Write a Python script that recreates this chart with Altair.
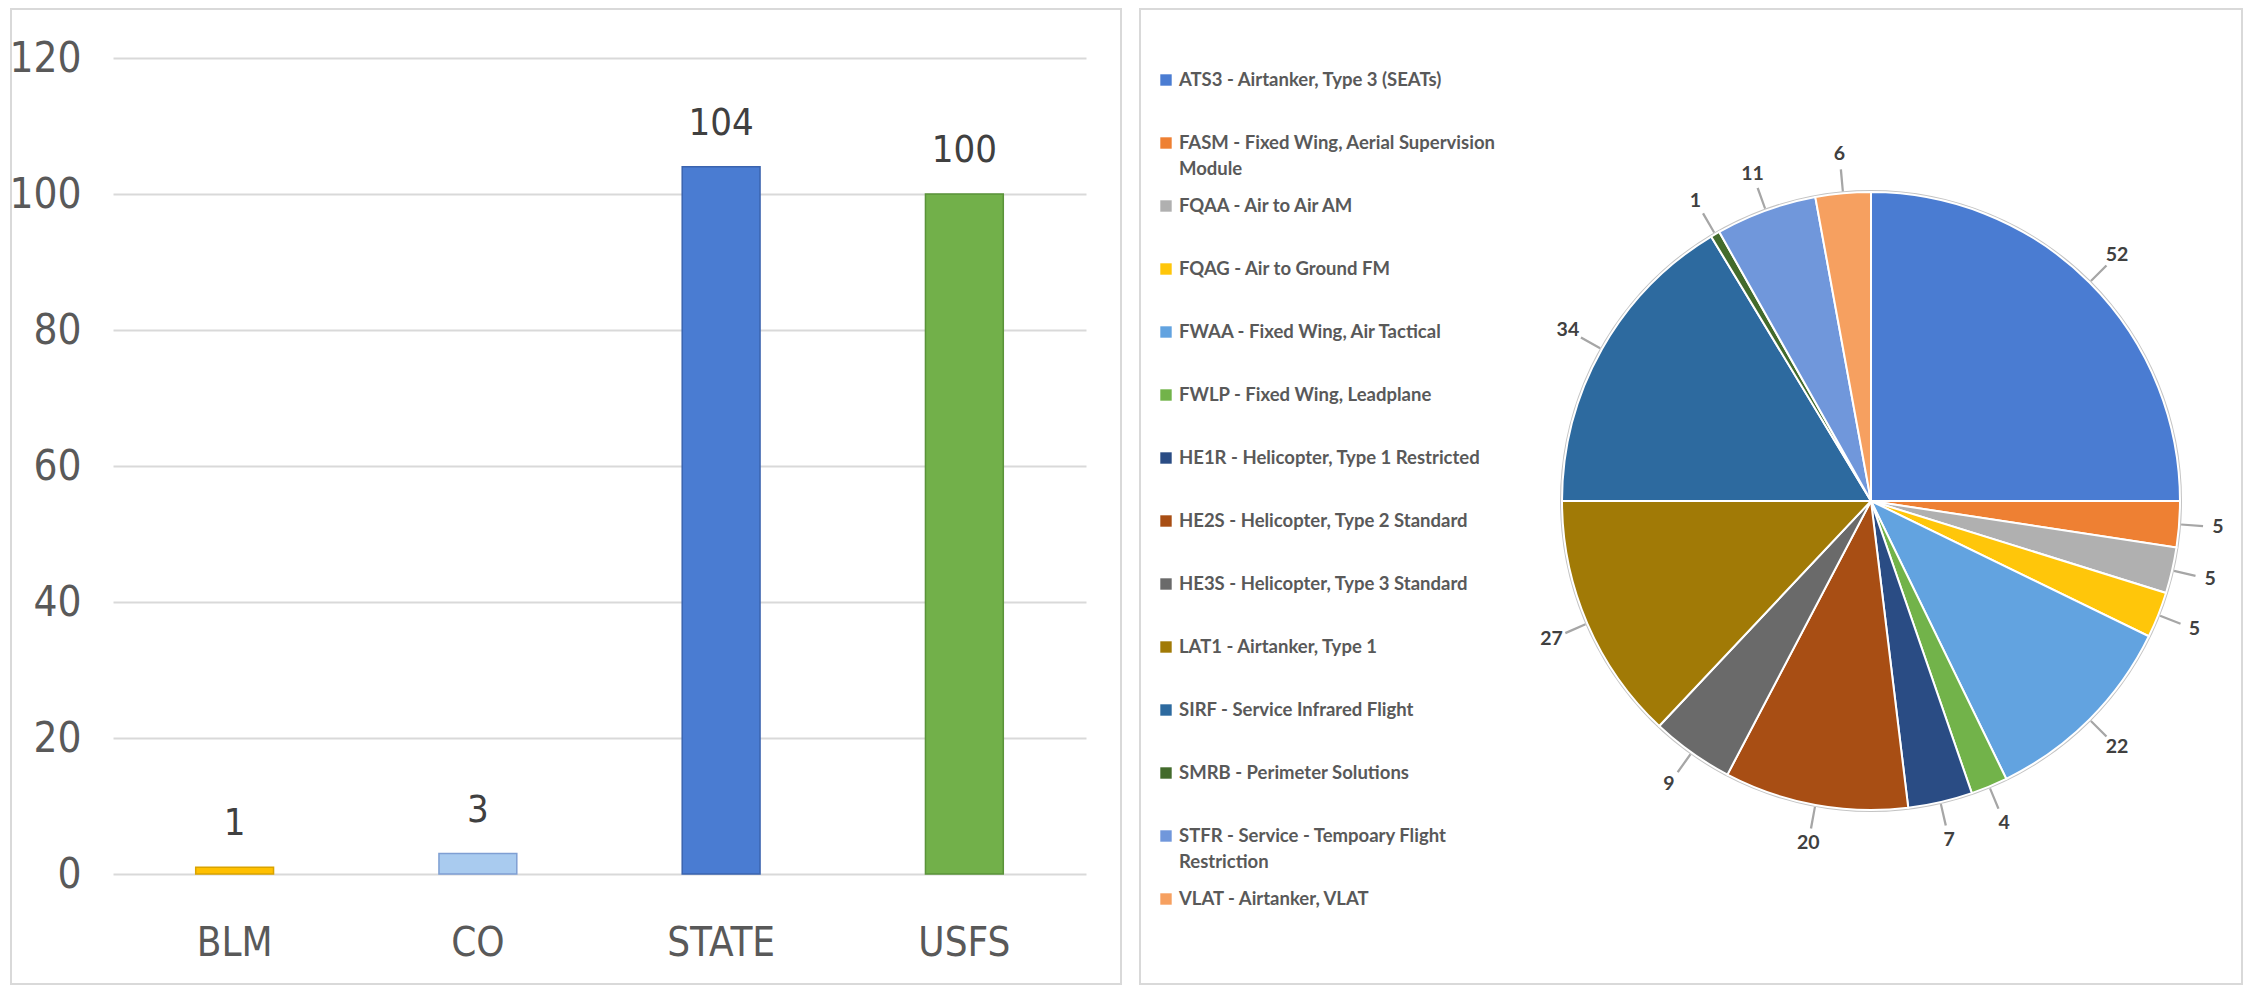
import altair as alt
import pandas as pd

# ---------------- data ----------------
agencies = ["BLM", "CO", "STATE", "USFS"]
agency_counts = [1, 3, 104, 100]
bar_fill = ["#FFC000", "#A9CBEF", "#4A7CD2", "#72B04A"]
bar_edge = ["#D9A300", "#7F9FD3", "#3A63AE", "#5A9339"]
y_ticks = [0, 20, 40, 60, 80, 100, 120]

codes = ["ATS3", "FASM", "FQAA", "FQAG", "FWAA", "FWLP", "HE1R",
         "HE2S", "HE3S", "LAT1", "SIRF", "SMRB", "STFR", "VLAT"]
descriptions = [
    "ATS3 - Airtanker, Type 3 (SEATs)",
    "FASM - Fixed Wing, Aerial Supervision\nModule",
    "FQAA - Air to Air AM",
    "FQAG - Air to Ground FM",
    "FWAA - Fixed Wing, Air Tactical",
    "FWLP - Fixed Wing, Leadplane",
    "HE1R - Helicopter, Type 1 Restricted",
    "HE2S - Helicopter, Type 2 Standard",
    "HE3S - Helicopter, Type 3 Standard",
    "LAT1 - Airtanker, Type 1",
    "SIRF - Service Infrared Flight",
    "SMRB - Perimeter Solutions",
    "STFR - Service - Tempoary Flight\nRestriction",
    "VLAT - Airtanker, VLAT",
]
code_counts = [52, 5, 5, 5, 22, 4, 7, 20, 9, 27, 34, 1, 11, 6]
code_colors = ["#4A7CD2", "#EE8033", "#B0B0B0", "#FFC60A", "#62A3E0", "#72B34A",
               "#2A4C84", "#A84E14", "#6A6A6A", "#A17A06", "#2D6A9F", "#436B2C",
               "#7097DB", "#F6A060"]

AX_FONT = "Liberation Sans Narrow, DejaVu Sans Condensed, Arial Narrow, sans-serif"
LEG_FONT = "Lato, Open Sans, sans-serif"
FRAME = "#d9d9d9"

# ---------------- left: bar chart ----------------
bar_df = pd.DataFrame({"agency": agencies, "count": agency_counts})

x_enc = alt.X(
    "agency:N", sort=agencies,
    scale=alt.Scale(paddingInner=0.68, paddingOuter=0.34),
    axis=alt.Axis(title=None, labelAngle=0, domain=False, ticks=False, tickSize=0,
                  labelPadding=69, labelBaseline="middle", labelFont=AX_FONT,
                  labelFontSize=40, labelColor="#595959", grid=False),
)
y_enc = alt.Y(
    "count:Q", scale=alt.Scale(domain=[0, 120], nice=False),
    axis=alt.Axis(title=None, values=y_ticks, domain=False, ticks=False, tickSize=0,
                  labelPadding=32, labelFont=AX_FONT, labelFontSize=42,
                  labelColor="#595959", gridColor=FRAME, gridWidth=2),
)

bars = alt.Chart(bar_df).mark_bar(strokeWidth=1.5).encode(
    x=x_enc, y=y_enc,
    color=alt.Color("agency:N", scale=alt.Scale(domain=agencies, range=bar_fill), legend=None),
    stroke=alt.Stroke("agency:N", scale=alt.Scale(domain=agencies, range=bar_edge), legend=None),
)
bar_labels = alt.Chart(bar_df).mark_text(
    baseline="alphabetic", dy=-32, font=AX_FONT, fontSize=38, color="#404040"
).encode(
    x=alt.X("agency:N", sort=agencies),
    y="count:Q",
    text="count:Q",
)
frame_left = alt.Chart(pd.DataFrame({"k": [0]})).mark_rect(
    fillOpacity=0, stroke=FRAME, strokeWidth=2
).encode(x=alt.value(-102), x2=alt.value(1008), y=alt.value(-49), y2=alt.value(926))

left = alt.layer(frame_left, bars, bar_labels).properties(
    width=973, height=816, view=alt.ViewBackground(strokeWidth=0)
)

# ---------------- right: legend + pie ----------------
pie_df = pd.DataFrame({
    "code": codes, "desc": descriptions, "n": code_counts,
    "idx": list(range(len(codes))),
})
color_scale = alt.Scale(domain=codes, range=code_colors)
CX, CY, R = 731, 443, 309

leg_y = alt.Y("code:N", sort=codes,
              scale=alt.Scale(type="point", range=[22, 841], padding=0), axis=None)

leg_sq = alt.Chart(pie_df).mark_square(size=130, opacity=1).encode(
    x=alt.value(26), y=leg_y,
    color=alt.Color("code:N", scale=color_scale, legend=None),
)
leg_txt = alt.Chart(pie_df).mark_text(
    align="left", baseline="alphabetic", dy=6, lineBreak="\n", lineHeight=26,
    font=LEG_FONT, fontSize=18.5, fontWeight="bold", color="#595959"
).encode(x=alt.value(39), y=leg_y, text="desc:N")

pie_base = alt.Chart(pie_df).transform_joinaggregate(
    total="sum(n)"
).transform_window(
    cum="sum(n)", sort=[alt.SortField("idx")], frame=[None, 0]
).transform_calculate(
    a0="2*PI*(datum.cum-datum.n)/datum.total",
    a1="2*PI*datum.cum/datum.total",
    am="PI*(2*datum.cum-datum.n)/datum.total",
).transform_calculate(
    t0="datum.am-0.0035", t1="datum.am+0.0035"
)

frame_right = alt.Chart(pd.DataFrame({"k": [0]})).mark_rect(
    fillOpacity=0, stroke=FRAME, strokeWidth=2
).encode(x=alt.value(0), x2=alt.value(1102), y=alt.value(-49), y2=alt.value(926))

ring = alt.Chart(pd.DataFrame({"k": [0]})).mark_arc(
    radius=R + 2, radius2=R - 1, theta=0, theta2=6.2832, color="#c4c4c4"
).encode(x=alt.value(CX), y=alt.value(CY))

slices = pie_base.mark_arc(radius=R, stroke="white", strokeWidth=2).encode(
    theta=alt.Theta("a0:Q", scale=None, stack=False),
    theta2="a1:Q",
    color=alt.Color("code:N", scale=color_scale, legend=None),
    x=alt.value(CX), y=alt.value(CY),
)
leaders = pie_base.mark_arc(radius=R + 24, radius2=R + 2, color="#a6a6a6").encode(
    theta=alt.Theta("t0:Q", scale=None, stack=False),
    theta2="t1:Q",
    x=alt.value(CX), y=alt.value(CY),
)
pie_labels = pie_base.mark_text(
    radius=R + 39, font=LEG_FONT, fontSize=19.5, fontWeight="bold", color="#404040"
).encode(
    theta=alt.Theta("am:Q", scale=None, stack=False),
    text="n:Q",
    x=alt.value(CX), y=alt.value(CY),
)

right = alt.layer(frame_right, leg_sq, leg_txt, ring, slices, leaders, pie_labels).properties(
    width=1102, height=816, view=alt.ViewBackground(strokeWidth=0)
)

chart = alt.hconcat(left, right, spacing=17).resolve_scale(
    color="independent", stroke="independent"
).properties(padding=0, background="white")

chart.save("out.html", embed_options={"renderer": "svg", "actions": False})
